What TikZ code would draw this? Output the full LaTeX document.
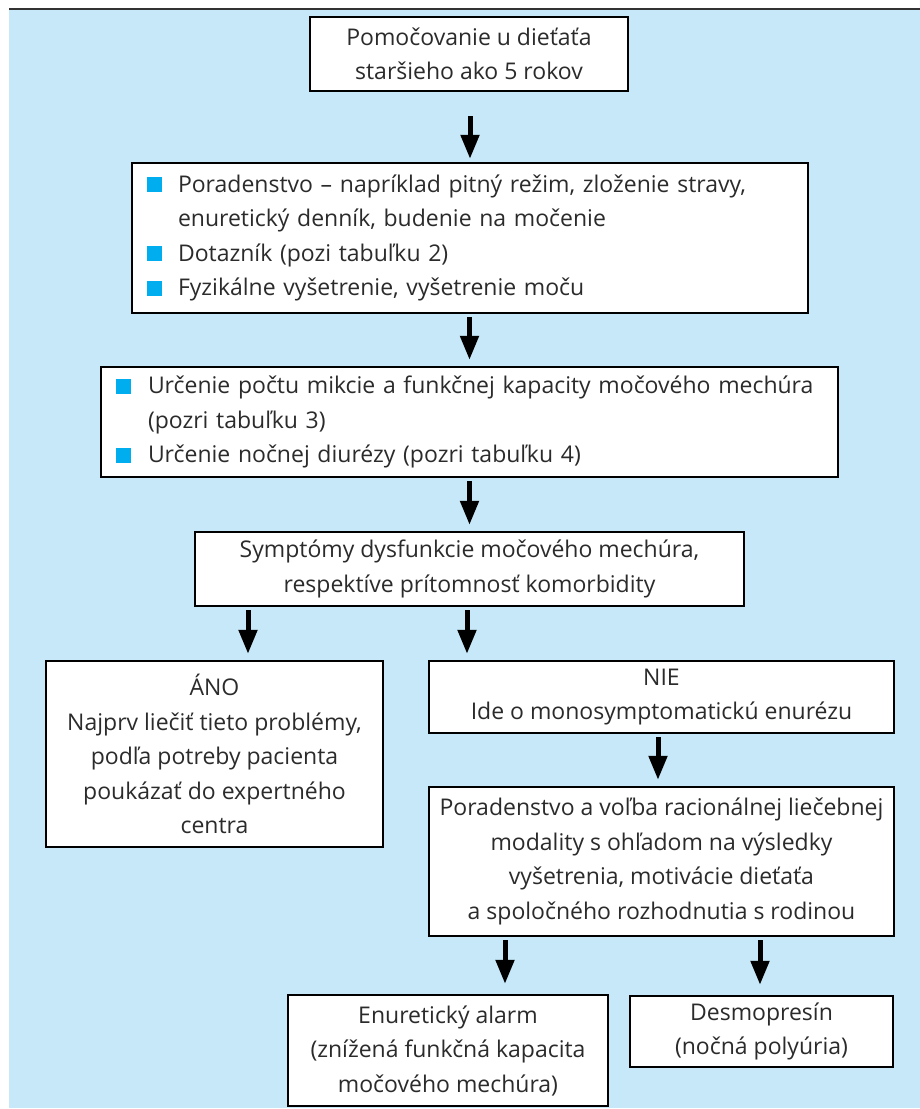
\documentclass[tikz,border=0pt]{standalone}
\usepackage{fontspec}
\setmainfont{Open Sans}
\usetikzlibrary{arrows.meta}
\definecolor{bgblue}{HTML}{C6E8F8}
\definecolor{bulcyan}{HTML}{00AEEF}
\definecolor{txtgray}{HTML}{2B2B2B}
\newcommand\sqbul{\textcolor{bulcyan}{\rule{15pt}{15pt}}\hspace{16pt}}
\newcommand\sqbulb{\textcolor{bulcyan}{\rule{15pt}{15pt}}\hspace{17pt}}

\begin{document}
\begin{tikzpicture}[x=1pt,y=-1pt,
  box/.style={draw=black,line width=2.4pt,fill=white,inner sep=0pt,align=center,
    text=txtgray,font=\fontsize{23}{34.5}\selectfont},
  listbox/.style={box,align=left,inner xsep=15pt},
  arr/.style={line width=5pt,-{Triangle[length=24pt,width=18pt]},shorten <=3pt,shorten >=6pt}]
\useasboundingbox (0,0) rectangle (920,1109);
\fill[bgblue] (9,10) rectangle (920,1108);
\draw[line width=2pt,black!80] (9,9) -- (920,9);

\node[box,minimum width=318pt,minimum height=74pt] (start) at (469,54)
  {Pomočovanie u dieťaťa\\staršieho ako 5 rokov};
\node[listbox,minimum width=676pt,minimum height=150pt,text width=646pt] (porad) at (470,238)
  {\sqbul Poradenstvo – napríklad pitný režim, zloženie stravy,\\
   \hspace*{31pt}enuretický denník, budenie na močenie\\
   \sqbul Dotazník (pozi tabuľku 2)\\
   \sqbul Fyzikálne vyšetrenie, vyšetrenie moču};
\node[listbox,minimum width=737pt,minimum height=110pt,text width=707pt] (mikcie) at (469.5,422)
  {\sqbulb Určenie počtu mikcie a funkčnej kapacity močového mechúra\\
   \hspace*{32pt}(pozri tabuľku 3)\\
   \sqbulb Určenie nočnej diurézy (pozri tabuľku 4)};
\node[box,minimum width=549pt,minimum height=74pt] (sympt) at (469.5,569)
  {Symptómy dysfunkcie močového mechúra,\\respektíve prítomnosť komorbidity};
\node[box,minimum width=337pt,minimum height=186pt] (ano) at (214.5,754)
  {ÁNO\\Najprv liečiť tieto problémy,\\podľa potreby pacienta\\poukázať do expertného\\centra};
\node[box,minimum width=465pt,minimum height=72pt] (nie) at (661.5,697)
  {NIE\\Ide o monosymptomatickú enurézu};
\node[box,minimum width=465pt,minimum height=149pt] (volba) at (661.5,861.5)
  {Poradenstvo a voľba racionálnej liečebnej\\modality s ohľadom na výsledky\\vyšetrenia, motivácie dieťaťa\\a spoločného rozhodnutia s rodinou};
\node[box,minimum width=320pt,minimum height=111pt] (alarm) at (448,1050.5)
  {Enuretický alarm\\(znížená funkčná kapacita\\močového mechúra)};
\node[box,minimum width=263pt,minimum height=71pt] (desmo) at (761.5,1031.5)
  {Desmopresín\\(nočná polyúria)};

% arrow positions
\coordinate (tano) at ([xshift=33.5pt]ano.north);
\coordinate (tnie) at ([xshift=-194.5pt]nie.north);
\coordinate (tvolba) at ([xshift=-3.5pt]volba.north);
\coordinate (talarm) at ([xshift=57pt]alarm.north);
\coordinate (tdesmo) at ([xshift=-1.5pt]desmo.north);

\draw[arr,shorten <=24pt,shorten >=3pt] (start.south -| porad.north) -- (porad.north);
\draw[arr] (porad.south -| mikcie.north) -- (mikcie.north);
\draw[arr] (mikcie.south -| sympt.north) -- (sympt.north);
\draw[arr] (tano |- sympt.south) -- (tano);
\draw[arr] (tnie |- sympt.south) -- (tnie);
\draw[arr] (tvolba |- nie.south) -- (tvolba);
\draw[arr,shorten >=10pt] (talarm |- volba.south) -- (talarm);
\draw[arr,shorten >=10pt] (tdesmo |- volba.south) -- (tdesmo);
\end{tikzpicture}
\end{document}
